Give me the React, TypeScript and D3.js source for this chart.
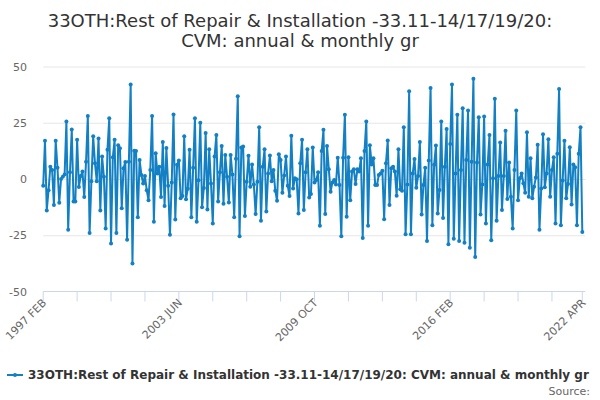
import { useEffect, useRef } from "react";
import * as d3 from "d3";

const titleLines = [
  "33OTH:Rest of Repair & Installation -33.11-14/17/19/20:",
  "CVM: annual & monthly gr",
];
const seriesName =
  "33OTH:Rest of Repair & Installation -33.11-14/17/19/20: CVM: annual & monthly gr";

// monthly growth, 1997 FEB .. 2022 APR (303 months)
const growth1997to2001 = [
  -3, 17, -14, -5, 5.5, 4, -11.5, 17, 5, -10.5, 0, 1, 2, 25.6, -22.5, 3, 22, -10, -10, 17.5,
  -3.5, 1.3, 3.3, -8, 7.7, 28, -24, -1, 19, 7, -1, 18, -14, 10, 1, -22, 13, 27, -28.7, 9.7,
  17.4, -24, 15, 13.7, -13, 4.8, 7.6, -27, 7.7, 42,
];
const growth2001to2005 = [
  -37.6, 12.6, 12.4, -17, 8.5, 1.8, -2, 1.3, -5, -9.4, 4, 28, -19, 11.5, 2.5, 5.5, -8, 16.4,
  -12, 13.8, -3, -24.8, -1.5, 28.7, -18, 6.3, 8.2, -8.6, -7.6, 19, -9, -4.3, 13, -17, 5, 27,
  -19, -0.5, 25, -12.6, -4, 20.4, -13.5, 13.2, -2, -19.8, 10, 19.6, -10,
];
const growth2005to2009 = [
  3, 14.7, -11, 10.7, 1, -10.4, 10.7, 2, -17, 9, 36.8, -25.4, 14, 14.4, -16.4, -1.2, 10.3,
  -3.4, 6.5, -2.4, -15.6, -1.2, 23, -18.6, 5.5, 13.2, -14.4, 2.5, 10.4, -1, 4, -5.2, -9.7, 11,
  8.5, -6.1, 1.6, 10, -3, -7.6, 19.2, -4.2, 0.3, -0.1, -15.3, 7, 17.4, -13.8,
];
const growth2009to2013 = [
  3, 13.2, -8.2, -6.7, 14, -1.5, -0.4, 3, -20.8, 12.5, 21.9, -15.6, 14.7, 4.3, -5.7, -1.5,
  -0.4, -2.4, 9.5, -2.7, -25.4, 9.5, 28.6, -16.8, 9.7, -9.4, 3.3, 4.3, -2.2, 4.3, 3.3, 9.2,
  -26.2, 12.5, 25.6, -20.8, 15, 6.5, 9.2, -2.7, -2.7, 1.8, 2.5, 3.7, -17.9, 7, 17.1, -11.6, 4.8,
  5.5,
];
const growth2013to2017 = [
  3.3, -7.4, 13.2, -4.6, -5.2, 23, -24.6, -2.4, 39, -24.6, 2.5, 8.9, -3.9, 1.3, 16.4, -15.8,
  -2.7, 5, -27.5, 8.2, 40.5, -20.5, 6.3, 14.9, -15.3, -4.9, 25.6, -17.3, 5.5, 22.2, -29, 15.6,
  42, -26.5, 2.5, 28.6, -27.5, 4, 31.5, -28.3, 8.5, 30.4, -30.5, 7.7, 44.6, -34.7, 7.3, 27.5,
  -15.8,
];
const growth2017to2022 = [
  -2.4, 27.8, -19.8, 6.5, 19.6, -27.2, 0.3, 35.7, -18.6, 1.3, 16.2, -13.8, 1.3, 21.4, -8.9,
  7.3, -7.9, -22, 4, 30.4, -9.4, 0.3, 2.5, -1.9, -6.1, 20.8, -7.9, 9.2, -8.6, -3.4, 0.7, 15.2,
  -22.5, -4.2, 19.9, -3.7, 2.5, 17.7, -7.9, 4, 9.7, -19.8, 11.2, 40, -20.5, -0.7, 17, -8.6,
  -2.2, 14.1, -11.3, 6.5, 5.2, -20.5, 11.2, 23, -23.5,
];
const values = [
  ...growth1997to2001,
  ...growth2001to2005,
  ...growth2005to2009,
  ...growth2009to2013,
  ...growth2013to2017,
  ...growth2017to2022,
];

const yTicks = [-50, -25, 0, 25, 50];
const xTickStep = 19;
const xLabels = ["1997 FEB", "2003 JUN", "2009 OCT", "2016 FEB", "2022 APR"];
const xLabelMonths = [0, 76, 152, 228, 302];

const lineColor = "#1380c4";

export default function App() {
  const svgRef = useRef<SVGSVGElement | null>(null);

  useEffect(() => {
    const svgElement = svgRef.current;
    if (!svgElement) return;

    const width = 600;
    const height = 400;
    const plot = { left: 43.2, right: 582.3, top: 66.5, bottom: 291.5 };
    const last = values.length - 1;

    const x = d3.scaleLinear().domain([0, last]).range([plot.left, plot.right]);
    const y = d3.scaleLinear().domain([-50, 50]).range([plot.bottom, plot.top]);

    const svg = d3.select(svgElement);
    svg.selectAll("*").remove();
    svg.attr("viewBox", `0 0 ${width} ${height}`);

    const font = "'DejaVu Sans', Verdana, sans-serif";

    svg
      .append("text")
      .attr("x", width / 2)
      .attr("y", 27)
      .attr("text-anchor", "middle")
      .attr("font-family", font)
      .attr("font-size", 18)
      .attr("fill", "#333333")
      .selectAll("tspan")
      .data(titleLines)
      .join("tspan")
      .attr("x", width / 2)
      .attr("dy", (_, i) => (i === 0 ? 0 : 20))
      .text((d) => d);

    // grid + y labels
    const grid = svg.append("g");
    grid
      .selectAll("line")
      .data(yTicks.filter((t) => t !== -50))
      .join("line")
      .attr("x1", plot.left)
      .attr("x2", plot.right + 3)
      .attr("y1", (d) => y(d) + 0.5)
      .attr("y2", (d) => y(d) + 0.5)
      .attr("stroke", "#e6e6e6");

    grid
      .selectAll("text")
      .data(yTicks)
      .join("text")
      .attr("x", 27)
      .attr("y", (d) => y(d) + 4)
      .attr("text-anchor", "end")
      .attr("font-family", font)
      .attr("font-size", 11)
      .attr("fill", "#666666")
      .text((d) => d);

    // x axis
    const tickMonths = d3.range(0, last, xTickStep).concat([last]);
    const xAxis = svg.append("g");
    xAxis
      .append("line")
      .attr("x1", plot.left)
      .attr("x2", plot.right + 3)
      .attr("y1", plot.bottom)
      .attr("y2", plot.bottom)
      .attr("stroke", "#ccd6eb");
    xAxis
      .selectAll("line.tick")
      .data(tickMonths)
      .join("line")
      .attr("class", "tick")
      .attr("x1", (d) => x(d))
      .attr("x2", (d) => x(d))
      .attr("y1", plot.bottom)
      .attr("y2", plot.bottom + 10)
      .attr("stroke", "#ccd6eb");
    xAxis
      .selectAll("text")
      .data(xLabelMonths)
      .join("text")
      .attr("transform", (d) => `translate(${x(d) + 4}, ${plot.bottom + 12}) rotate(-45)`)
      .attr("text-anchor", "end")
      .attr("font-family", font)
      .attr("font-size", 11)
      .attr("fill", "#666666")
      .text((_, i) => xLabels[i]);

    // series
    const line = d3
      .line<number>()
      .x((_, i) => x(i))
      .y((d) => y(d));

    svg
      .append("path")
      .datum(values)
      .attr("d", line)
      .attr("fill", "none")
      .attr("stroke", lineColor)
      .attr("stroke-width", 2)
      .attr("stroke-linejoin", "round");

    svg
      .append("g")
      .selectAll("circle")
      .data(values)
      .join("circle")
      .attr("cx", (_, i) => x(i))
      .attr("cy", (d) => y(d))
      .attr("r", 2)
      .attr("fill", lineColor);

    // legend
    const legend = svg.append("g").attr("transform", "translate(7, 375)");
    legend
      .append("line")
      .attr("x1", 0)
      .attr("x2", 16)
      .attr("y1", 0)
      .attr("y2", 0)
      .attr("stroke", lineColor)
      .attr("stroke-width", 2);
    legend.append("circle").attr("cx", 8).attr("cy", 0).attr("r", 2).attr("fill", lineColor);
    legend
      .append("text")
      .attr("x", 21)
      .attr("y", 4)
      .attr("font-family", font)
      .attr("font-size", 12)
      .attr("font-weight", "bold")
      .attr("fill", "#333333")
      .text(seriesName);

    svg
      .append("text")
      .attr("x", 590)
      .attr("y", 395)
      .attr("text-anchor", "end")
      .attr("font-family", font)
      .attr("font-size", 11)
      .attr("fill", "#666666")
      .text("Source:");
  }, []);

  return (
    <div style={{ position: "absolute", left: 0, top: 0, width: 600, height: 400 }}>
      <svg ref={svgRef} width={600} height={400} role="img" aria-label={seriesName} />
    </div>
  );
}
